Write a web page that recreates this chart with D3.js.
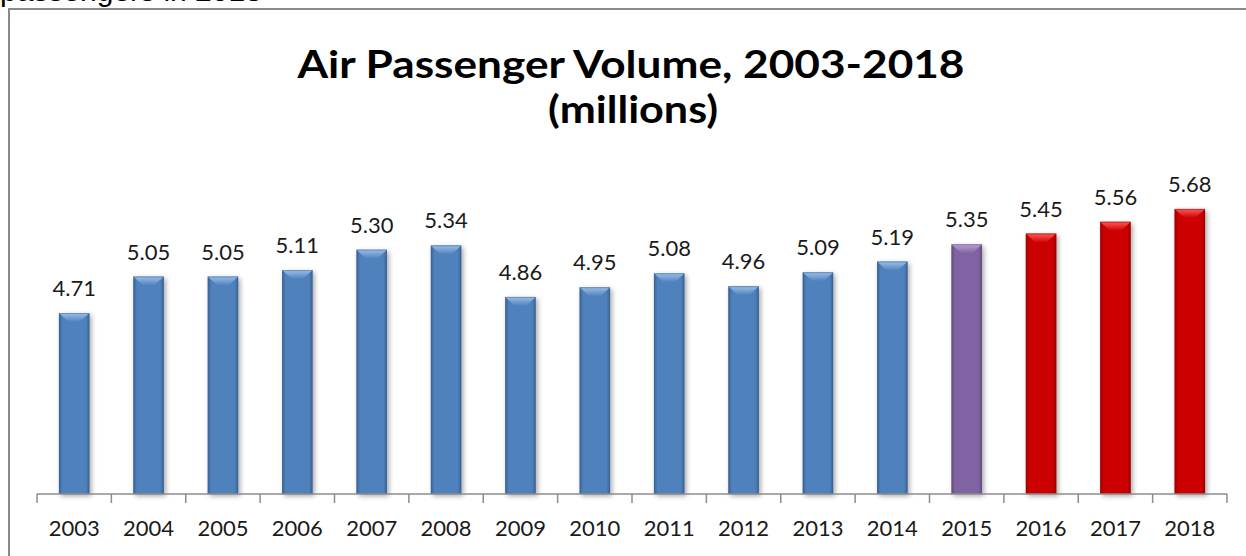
<!DOCTYPE html>
<html>
<head>
<meta charset="utf-8">
<script src="https://cdn.jsdelivr.net/npm/d3@7"></script>
<style>
html,body{margin:0;padding:0;background:#fff;overflow:hidden;}
svg{display:block;}
</style>
</head>
<body>
<svg id="chart" width="1246" height="556"></svg>
<script>
const years = ["2003","2004","2005","2006","2007","2008","2009","2010","2011","2012","2013","2014","2015","2016","2017","2018"];
const values = [4.71,5.05,5.05,5.11,5.30,5.34,4.86,4.95,5.08,4.96,5.09,5.19,5.35,5.45,5.56,5.68];
const groups = ["actual","actual","actual","actual","actual","actual","actual","actual","actual","actual","actual","actual","estimate","forecast","forecast","forecast"];
const titleLines = ["Air Passenger Volume, 2003-2018","(millions)"];
const topNote = "passengers in 2018";

const palette = {
  actual:   {base:"#4F81BD", dark:"#3A6296", light:"#9CC0EA"},
  estimate: {base:"#8064A2", dark:"#634C82", light:"#B9A3D6"},
  forecast: {base:"#CC0000", dark:"#9E0000", light:"#FF5A5A"}
};

const svg = d3.select("#chart");
const font = "Lato, 'Open Sans', sans-serif";

const defs = svg.append("defs");
Object.entries(palette).forEach(([k,c])=>{
  const g = defs.append("linearGradient").attr("id","body-"+k).attr("x1","0").attr("x2","1").attr("y1","0").attr("y2","0");
  g.append("stop").attr("offset","0").attr("stop-color",c.dark);
  g.append("stop").attr("offset","0.12").attr("stop-color",c.base);
  g.append("stop").attr("offset","0.88").attr("stop-color",c.base);
  g.append("stop").attr("offset","1").attr("stop-color",c.dark);
  const t = defs.append("linearGradient").attr("id","top-"+k).attr("x1","0").attr("x2","0").attr("y1","0").attr("y2","1");
  t.append("stop").attr("offset","0").attr("stop-color",c.light);
  t.append("stop").attr("offset","1").attr("stop-color",c.base);
});
const f = defs.append("filter").attr("id","shadow").attr("x","-30%").attr("y","-10%").attr("width","170%").attr("height","130%");
f.append("feDropShadow").attr("dx",2).attr("dy",2).attr("stdDeviation",2.5).attr("flood-color","#000").attr("flood-opacity",0.35);

// top cut-off note (only its lower part shows in the picture)
svg.append("text").attr("x",0).attr("y",0.5).attr("font-family","Arial, 'Liberation Sans', sans-serif")
  .attr("font-size",30).attr("fill","#000").text(topNote);

// frame
svg.append("path").attr("d","M9,556 V9 H1246").attr("fill","none").attr("stroke","#8a8a8a").attr("stroke-width",2);

// title
svg.append("text").attr("x",631).attr("y",78).attr("text-anchor","middle")
  .attr("font-family",font).attr("font-weight","bold").attr("font-size",38)
  .attr("textLength",667).attr("lengthAdjust","spacingAndGlyphs").text(titleLines[0]);
svg.append("text").attr("x",633).attr("y",123).attr("text-anchor","middle")
  .attr("font-family",font).attr("font-weight","bold").attr("font-size",38)
  .attr("textLength",170).attr("lengthAdjust","spacingAndGlyphs").text(titleLines[1]);

const baseY = 494;
const x = d3.scaleBand().domain(years).range([37,1227]).paddingInner(0.59).paddingOuter(0.295);
const y = d3.scaleLinear().domain([3,6]).range([496.5,174.6]);

const bars = svg.append("g").selectAll("g").data(years).join("g");
bars.each(function(yr,i){
  const g = d3.select(this);
  const k = groups[i];
  const x0 = x(yr), w = x.bandwidth(), top = y(values[i]), h = baseY - top;
  const bv = Math.min(9, w*0.3);
  g.append("rect").attr("x",x0).attr("y",top).attr("width",w).attr("height",h)
    .attr("fill","url(#body-"+k+")").attr("filter","url(#shadow)");
  g.append("path").attr("d",`M${x0},${top} H${x0+w} L${x0+w-1},${top+1} L${x0+w/2+bv*0.6},${top+bv} L${x0+w/2-bv*0.6},${top+bv} L${x0+1},${top+1} Z`)
    .attr("fill","url(#top-"+k+")");
  g.append("rect").attr("x",x0+0.5).attr("y",top+0.5).attr("width",w-1).attr("height",h-1)
    .attr("fill","none").attr("stroke",palette[k].dark).attr("stroke-opacity",0.5).attr("stroke-width",1);
  g.append("text").attr("x",x0+w/2).attr("y",top-17).attr("text-anchor","middle")
    .attr("font-family",font).attr("font-size",22).attr("fill","#1a1a1a").text(values[i].toFixed(2));
});

// axis
const axis = svg.append("g").attr("transform",`translate(0,${baseY})`);
axis.append("line").attr("x1",37).attr("x2",1227).attr("stroke","#8c8c8c").attr("stroke-width",1.5);
const step = x.step();
const bounds = d3.range(years.length+1).map(i=>37+i*step);
axis.selectAll("line.tick").data(bounds).join("line").attr("class","tick")
  .attr("x1",d=>d).attr("x2",d=>d).attr("y1",0).attr("y2",9).attr("stroke","#8c8c8c").attr("stroke-width",1.5);
axis.selectAll("text").data(years).join("text")
  .attr("x",d=>x(d)+x.bandwidth()/2).attr("y",42).attr("text-anchor","middle")
  .attr("font-family",font).attr("font-size",22).attr("fill","#1a1a1a").text(d=>d);
</script>
</body>
</html>
